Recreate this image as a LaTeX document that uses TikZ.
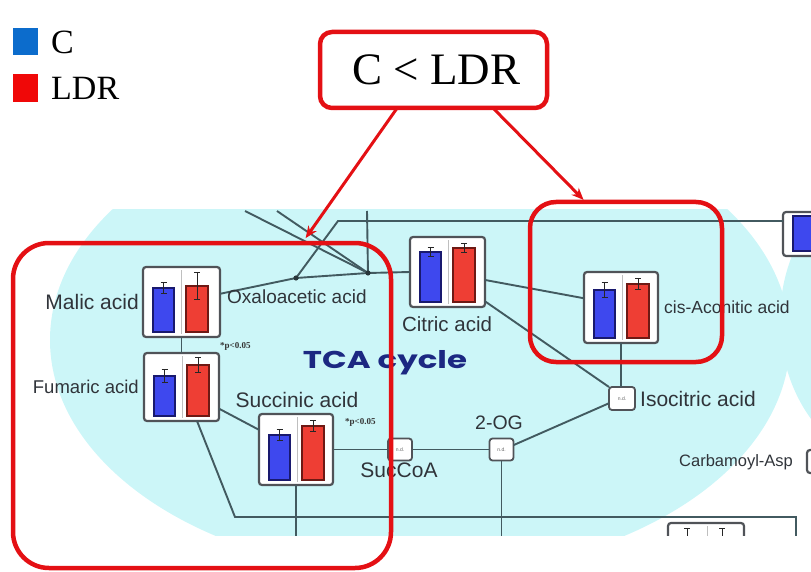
\documentclass[tikz,border=0pt]{standalone}
\usepackage{fontspec}
\usepackage{graphicx}
\setmainfont{Liberation Serif}
\newfontfamily\labfont{Liberation Sans}
\newfontfamily\tcafont{Poppins}
\usetikzlibrary{arrows.meta,calc}

\definecolor{bgcyan}{RGB}{204,246,248}
\definecolor{netcol}{RGB}{66,90,96}
\definecolor{framegray}{RGB}{80,83,88}
\definecolor{cbar}{RGB}{62,72,238}
\definecolor{cedge}{RGB}{25,25,110}
\definecolor{lbar}{RGB}{238,62,52}
\definecolor{ledge}{RGB}{110,25,20}
\definecolor{mark}{RGB}{228,16,20}
\definecolor{legblue}{RGB}{12,108,204}
\definecolor{legred}{RGB}{240,8,8}
\definecolor{labgray}{RGB}{48,52,58}
\definecolor{tcablue}{RGB}{28,40,130}

\newcommand\fsz[1]{\fontsize{#1}{#1}\selectfont}

% bar-chart box: name, left, top, right, bottom, C top, LDR top, C error top, LDR error top
\newcommand\chartbox[9]{%
  \node[chartframe, minimum width={#4-#2}, minimum height={#5-#3}] (#1) at ({(#2+#4)/2},{(#3+#5)/2}) {};
  \draw[divider] ({#2+38},{#3+3}) -- ({#2+38},{#5-3});
  \filldraw[cbarst] ({#2+10},{#6}) rectangle ({#2+31},{#5-5});
  \filldraw[lbarst] ({#2+43},{#7}) rectangle ({#2+65},{#5-5});
  \draw[errbar] ({#2+20.5},{#8}) -- ({#2+20.5},{2*#6-#8});
  \draw[errbar] ({#2+54},{#9}) -- ({#2+54},{2*#7-#9});
}

\begin{document}
\begin{tikzpicture}[x=1pt,y=-1pt,
  chartframe/.style={draw=framegray, fill=white, line width=2.2pt, rounded corners=3pt, inner sep=0pt, outer sep=0pt},
  divider/.style={draw=black!25, line width=0.6pt},
  cbarst/.style={fill=cbar, draw=cedge, line width=1.2pt},
  lbarst/.style={fill=lbar, draw=ledge, line width=1.2pt},
  errbar/.style={draw=black!85, line width=1pt, {Bar[width=6pt]}-{Bar[width=6pt]}},
  errtop/.style={draw=black!85, line width=1pt, {Bar[width=6pt]}-},
  smallbox/.style={draw=framegray, fill=white, line width=1.8pt, rounded corners=3pt, minimum width=24pt, minimum height=22pt, inner sep=0pt, outer sep=0pt, font=\labfont\fsz{5}, text=black!60},
  net/.style={draw=netcol, line width=1.9pt},
  lab/.style={inner sep=0pt, text=labgray},
  pval/.style={inner sep=0pt, font=\bfseries\fsz{9}, text=black!80},
  legtext/.style={inner sep=0pt, font=\fsz{34}, text=black},
  redframe/.style={draw=mark, line width=4.5pt, inner sep=0pt, outer sep=0pt},
  markarrow/.style={draw=mark, line width=3pt, -{Stealth[length=12pt,width=10pt]}}
]
\useasboundingbox (0,0) rectangle (811,572);

% legend
\fill[legblue] (13,28) rectangle (38,55);
\fill[legred] (13,74) rectangle (38,102);
\node[legtext, anchor=west] (legc) at (51,42) {C};
\node[legtext, anchor=west] (legl) at (51,88) {LDR};

\begin{scope}
\clip (0,210) rectangle (811,535);
% pathway background
\fill[bgcyan] (420,340) ellipse [x radius=370, y radius=235];
\fill[bgcyan] (905,320) ellipse [x radius=125, y radius=150];

% metabolite charts
\chartbox{malic}{143}{267}{220}{337}{288}{286}{282}{272}
\chartbox{fumaric}{144}{353}{219}{421}{376}{365}{369}{357}
\chartbox{succinic}{259}{414}{333}{485}{435}{426}{429}{420}
\chartbox{citric}{410}{237}{485}{307}{252}{248}{247}{243}
\chartbox{cisacon}{584}{272}{658}{343}{290}{284}{282}{278}

% partly visible charts at the edges
\node[chartframe, minimum width=52, minimum height=44] (trbox) at (809,234) {};
\filldraw[cbarst] (793,216) rectangle (815,251);
\node[chartframe, minimum width=28, minimum height=23] (carbbox) at (821,461.5) {};
\node[chartframe, minimum width=76, minimum height=40] (lrbox) at (706,543) {};
\draw[divider] (707,526) -- (707,560);
\draw[errtop] (687,528) -- (687,545);
\draw[errtop] (722,528) -- (722,545);

% undetected metabolites
\node[smallbox] (succoa) at (400,449.5) {n.d.};
\node[smallbox] (og) at (501.5,449.5) {n.d.};
\node[smallbox, minimum width=26pt, minimum height=23pt] (iso) at (622,398.5) {n.d.};

% junction points
\coordinate (d1) at (296,278);
\coordinate (d2) at (368,273);
\coordinate (k1) at (338,221);
\coordinate (t1) at (245,211);
\coordinate (t2) at (277,211);
\coordinate (t3) at (367,211);
\coordinate (k2) at (235,517);
\coordinate (k3) at (796,517);
\coordinate (bot) at (0,540);

% reactions
\draw[net] (malic.12) -- (d1) -- (d2) -- (citric.west);
\draw[net] (d1) -- (k1) -- (k1 -| trbox.west);
\draw[net] (t1) -- (d2);
\draw[net] (t2) -- (d2);
\draw[net] (t3) -- (d2);
\draw[net] (malic.south) -- (fumaric.north);
\draw[net] (fumaric.-30) -- (succinic.152);
\draw[net] ([xshift=15.5pt]fumaric.south) -- (k2) -- (k3) -- (k3 |- bot);
\draw[net] (succinic.east |- succoa) -- (succoa.west);
\draw[net] (succoa.east) -- (og.west);
\draw[net] (succinic.south) -- (succinic.south |- bot);
\draw[net] (og.south) -- (og.south |- bot);
\draw[net] (og.20) -- (iso.200);
\draw[net] (citric.-38) -- (iso.north west);
\draw[net] (citric.-12) -- (cisacon.166);
\draw[net] (cisacon.south) -- (cisacon.south |- iso.north);
\fill[netcol!60!black] (d1) circle (2.6pt);
\fill[netcol!60!black] (d2) circle (2.6pt);

% labels
\node[lab, font=\labfont\fsz{21}, anchor=east] (tmalic) at (139,302) {Malic acid};
\node[lab, font=\labfont\fsz{19}, anchor=west] (toxa) at (227,297) {Oxaloacetic acid};
\node[lab, font=\labfont\fsz{18.5}, anchor=east] (tfum) at (139,387) {Fumaric acid};
\node[lab, font=\labfont\fsz{21}] (tsucc) at (297,400) {Succinic acid};
\node[lab, font=\labfont\fsz{20.5}] (tcit) at (447,324) {Citric acid};
\node[lab, font=\labfont\fsz{17.5}, anchor=west] (tcis) at (664,307) {cis-Aconitic acid};
\node[lab, font=\labfont\fsz{21}, anchor=west] (tiso) at (640,399) {Isocitric acid};
\node[lab, font=\labfont\fsz{19.5}] (tog) at (499,423) {2-OG};
\node[lab, font=\labfont\fsz{21}] (tsuccoa) at (399,470) {SucCoA};
\node[lab, font=\labfont\fsz{16.5}, anchor=west] (tcarb) at (679,462) {Carbamoyl-Asp};
\node[pval, anchor=west] (p1) at (220,346) {*p<0.05};
\node[pval, anchor=west] (p2) at (345,422) {*p<0.05};
\node[inner sep=0pt, text=tcablue] (tca) at (385,363) {\resizebox{164pt}{18pt}{\tcafont\bfseries TCA cycle}};
\end{scope}

% highlighted groups
\node[redframe, rounded corners=36pt, minimum width=378, minimum height=325] (grpA) at (202,405.5) {};
\node[redframe, rounded corners=26pt, minimum width=192, minimum height=160] (grpB) at (626,282) {};
\node[redframe, fill=white, rounded corners=12pt, minimum width=227, minimum height=76, font=\fsz{45}] (ldr) at (433.5,70) {\hspace{6pt}C < LDR};

\draw[markarrow, shorten >=6pt] ($(ldr.south west)!0.34!(ldr.south east)$) -- ($(grpA.north west)!0.765!(grpA.north east)$);
\draw[markarrow, shorten >=3pt] ($(ldr.south west)!0.762!(ldr.south east)$) -- ($(grpB.north west)!0.29!(grpB.north east)$);
\end{tikzpicture}
\end{document}
